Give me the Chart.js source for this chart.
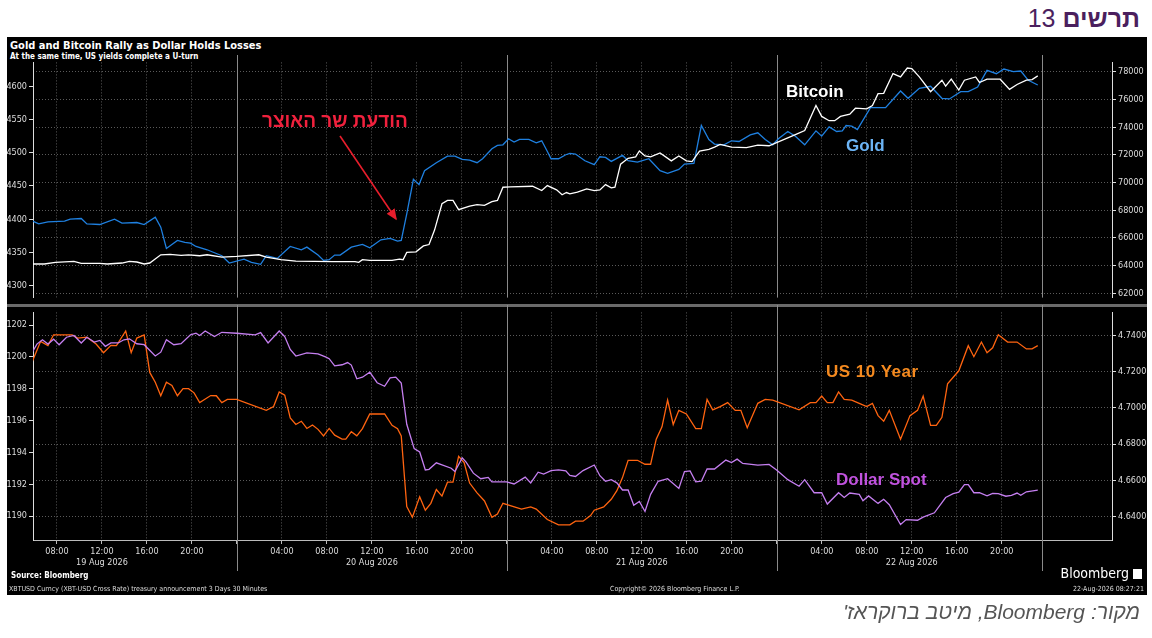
<!DOCTYPE html>
<html>
<head>
<meta charset="utf-8">
<script src="https://cdn.jsdelivr.net/npm/chart.js@4"></script>
<style>
  body { margin: 0; background: #fff; width: 1152px; height: 638px; position: relative; overflow: hidden; font-family: "Liberation Sans", Arial, sans-serif; }
  #panel { position: absolute; left: 7px; top: 37px; width: 1140px; height: 558px; background: #000; }
  .abs { position: absolute; white-space: nowrap; }
  .chartBox { position: absolute; left: 7px; width: 1140px; }
</style>
</head>
<body>
<div class="abs" style="right:12px;top:4px;font-size:25px;color:#4b1f5e;direction:rtl;"><b>תרשים</b> 13</div>
<div id="panel"></div>
<div class="abs" style="left:10px;top:39px;color:#fff;font:bold 11px 'Liberation Sans Narrow','DejaVu Sans Condensed',sans-serif;">Gold and Bitcoin Rally as Dollar Holds Losses</div>
<div class="abs" style="left:10px;top:52px;color:#fff;font:bold 8px 'Liberation Sans Narrow','DejaVu Sans Condensed',sans-serif;">At the same time, US yields complete a U-turn</div>

<div class="chartBox" style="top:55px;height:250px;"><canvas id="topChart"></canvas></div>
<div style="position:absolute;left:7px;top:304px;width:1140px;height:3px;background:#6a6a6a;"></div>
<div class="chartBox" style="top:305px;height:270px;"><canvas id="bottomChart"></canvas></div>

<div class="abs" style="left:786px;top:82px;color:#fff;font:bold 17px 'Liberation Sans',sans-serif;">Bitcoin</div>
<div class="abs" style="left:846px;top:136px;color:#6cb4f5;font:bold 17px 'Liberation Sans',sans-serif;">Gold</div>
<div class="abs" style="left:826px;top:362px;color:#f58a1f;font:bold 17px 'Liberation Sans',sans-serif;letter-spacing:0.5px;">US 10 Year</div>
<div class="abs" style="left:836px;top:470px;color:#c052de;font:bold 17px 'Liberation Sans',sans-serif;">Dollar Spot</div>
<div class="abs" style="left:262px;top:110px;color:#f0213d;font:bold 19px 'Liberation Sans',sans-serif;direction:rtl;">הודעת שר האוצר</div>
<svg class="abs" style="left:0;top:0;" width="1152" height="638">
  <defs><marker id="ah" markerWidth="8" markerHeight="8" refX="6" refY="3" orient="auto"><path d="M0,0 L7,3 L0,6 z" fill="#e81e2c"/></marker></defs>
  <line x1="340" y1="136" x2="396" y2="219" stroke="#e81e2c" stroke-width="1.6" marker-end="url(#ah)"/>
</svg>

<div class="abs" style="left:11px;top:571px;color:#fff;font:bold 8px 'Liberation Sans Narrow','DejaVu Sans Condensed',sans-serif;">Source: Bloomberg</div>
<div class="abs" style="left:9px;top:585px;color:#ddd;font:7px 'Liberation Sans Narrow','DejaVu Sans Condensed',sans-serif;">XBTUSD Curncy (XBT-USD Cross Rate) treasury announcement 3 Days 30 Minutes</div>
<div class="abs" style="left:610px;top:585px;color:#ddd;font:7px 'Liberation Sans Narrow','DejaVu Sans Condensed',sans-serif;">Copyright© 2026 Bloomberg Finance L.P.</div>
<div class="abs" style="right:8px;top:585px;color:#ddd;font:7px 'Liberation Sans Narrow','DejaVu Sans Condensed',sans-serif;">22-Aug-2026 08:27:21</div>
<div class="abs" style="right:10px;top:565px;color:#fff;font:14px 'Liberation Sans Narrow','DejaVu Sans Condensed',sans-serif;">Bloomberg <span style="display:inline-block;width:9px;height:10px;background:#fff;vertical-align:-1px;"></span></div>
<div class="abs" style="right:12px;top:600px;color:#555;font:italic 21px 'Liberation Sans',sans-serif;direction:rtl;">מקור: Bloomberg, מיטב ברוקראז'</div>

<script>
// time axis: hours since 19 Aug 2026 00:00
const dayLabels = ['19 Aug 2026', '20 Aug 2026', '21 Aug 2026', '22 Aug 2026'];

// Gold (left axis, top panel)
const goldT = [5.73,6.38,7.2,8.68,9.18,10.16,10.66,11.81,13.12,13.78,15.1,15.75,16.74,17.23,17.73,18.71,19.37,19.87,20.36,21.35,22.66,23.32,24.63,25.29,26.11,26.61,27.59,28.74,29.73,30.22,31.21,31.7,32.2,32.69,33.18,34.17,35.16,35.81,36.8,37.62,38.28,38.61,39.1,39.69,40.19,40.68,41.73,42.72,43.38,44.03,44.69,45.35,45.84,46.67,47.16,47.65,48.15,48.64,49.13,49.95,50.61,51.1,51.6,51.93,52.59,53.24,
  53.6,54.1,54.94,55.77,56.27,56.77,57.28,58.28,58.78,59.61,60.62,61.62,62.29,63.29,63.79,64.63,65.29,65.96,66.46,67.3,67.97,68.64,69.64,70.31,70.97,71.64,72.14,72.98,73.65,74.48,75.48,75.99,76.65,77.32,77.82,78.16,78.66,79.16,80.33,81.67,83.0,83.67,84.67,85.67,86.68,87.35,88.35,89.02,89.85,90.69,91.52,92.19,93.03,93.69,94.36,95.2];
const goldV = [4398,4393,4396,4397,4400,4401,4393,4392,4400,4394,4395,4392,4403,4388,4356,4368,4365,4364,4359,4354,4345,4334,4340,4335,4332,4345,4341,4359,4354,4358,4346,4338,4339,4346,4346,4358,4362,4357,4369,4371,4367,4368,4408,4460,4452,4473,4485,4495,4495,4490,4489,4485,4491,4506,4511,4512,4521,4516,4520,4520,4515,4518,4502,4491,4491,4497,
  4499,4498,4488,4482,4494,4493,4487,4496,4488,4486,4491,4473,4469,4475,4483,4484,4541,4520,4513,4512,4518,4517,4527,4530,4520,4512,4521,4532,4525,4512,4533,4525,4539,4532,4533,4541,4540,4535,4568,4568,4593,4582,4597,4600,4582,4581,4592,4592,4599,4624,4619,4626,4622,4623,4609,4602];

// Bitcoin (right axis, top panel)
const btcT = [5.73,6.88,7.86,9.51,10.16,11.81,12.47,13.78,14.44,15.1,15.75,16.25,17.23,18.06,19.04,19.7,20.69,21.35,22.66,23.98,25.95,26.61,27.92,29.24,32.53,34.5,34.83,35.16,35.81,37.79,38.45,38.77,39.1,39.92,40.58,41.08,41.57,42.23,42.72,43.21,43.71,44.69,45.35,46.01,46.67,47.16,47.65,48.31,50.28,51.1,51.6,52.42,52.91,53.3,
  53.6,54.27,55.1,55.77,56.27,56.77,57.28,57.61,58.11,58.78,59.45,59.78,60.28,60.78,61.62,62.62,63.29,63.96,64.46,65.13,65.96,66.46,66.96,67.97,69.3,70.31,71.31,73.65,74.48,75.48,75.99,76.65,77.15,77.66,78.49,78.99,79.99,80.5,81.0,81.5,82.33,83.0,83.6,84.0,84.67,85.67,86.68,87.01,87.51,88.18,88.68,89.68,90.02,90.69,91.86,92.69,93.36,94.19,94.69,95.2];
const btcV = [64119,64119,64238,64309,64167,64167,64119,64190,64309,64262,64119,64190,64785,64809,64738,64785,64714,64785,64619,64666,64785,64619,64428,64333,64286,64286,64238,64428,64380,64380,64476,64428,64952,65000,65428,65524,66571,68476,68714,68714,68047,68309,68405,68357,68619,68714,69667,69690,69738,69428,69786,69476,69119,69285,
  69190,69309,69547,69428,69476,69857,69619,69666,71333,71762,71857,72286,71928,71857,72143,71571,71928,71571,71524,72286,72405,72571,72762,72571,72524,72714,72667,73476,73762,75571,74786,74476,74476,74786,74952,75381,75333,75571,76429,76452,77881,77643,78286,78238,77643,76571,77405,76976,77476,76690,77405,77643,77238,77476,77476,76738,77095,77405,77452,77714];

// Dollar Spot (left axis, bottom panel)
const dxyT = [5.73,6.22,6.71,7.2,7.7,8.19,8.85,9.51,10.16,10.66,11.32,11.81,12.3,12.8,13.45,13.95,14.44,15.1,15.75,16.74,17.23,17.73,18.39,19.04,19.87,20.36,20.69,21.18,22.0,22.66,23.98,25.62,26.11,26.77,27.76,28.25,28.74,29.24,30.22,31.21,31.87,32.2,32.69,33.35,33.84,34.17,34.66,35.16,35.81,36.47,37.13,37.62,38.12,38.61,39.1,39.76,40.25,40.75,41.08,41.73,43.05,43.38,44.03,44.36,45.02,45.68,46.34,46.67,47.98,48.64,49.63,50.12,50.78,51.27,51.93,52.59,53.24,
  53.6,54.1,54.77,55.77,56.27,56.77,57.28,57.78,58.28,58.78,59.28,59.78,60.28,60.78,61.45,62.29,63.29,63.79,64.29,64.79,65.29,65.8,66.46,67.47,67.97,68.47,68.97,70.31,71.31,71.98,72.98,73.98,74.48,75.32,75.99,76.49,77.49,77.99,78.49,79.33,79.66,80.16,81.0,81.5,82.0,83.0,83.5,84.51,85.01,86.01,87.01,87.68,88.18,88.68,89.02,89.52,90.02,90.69,91.19,91.69,92.36,92.86,93.36,93.69,94.19,95.2];
const dxyV = [1200.20,1200.81,1201.08,1200.81,1201.12,1200.77,1201.24,1201.35,1200.88,1201.24,1200.94,1201.04,1200.67,1200.88,1200.88,1201.08,1201.14,1200.83,1200.77,1200.06,1200.30,1201.08,1200.77,1200.83,1201.39,1201.49,1201.35,1201.63,1201.28,1201.55,1201.49,1201.39,1201.53,1200.88,1201.63,1201.28,1200.47,1200.06,1200.26,1200.20,1200.00,1199.89,1199.44,1199.51,1199.65,1199.49,1198.63,1198.73,1199.04,1198.38,1198.16,1198.69,1198.73,1198.36,1195.77,1194.24,1194.03,1192.90,1192.94,1193.35,1193.01,1192.80,1193.66,1193.41,1192.70,1192.35,1192.43,1192.15,1192.15,1192.02,1192.45,1192.09,1192.76,1192.64,1192.86,1192.90,1192.84,
  1192.56,1192.49,1192.86,1193.21,1192.54,1192.19,1192.29,1192.09,1191.64,1191.64,1190.68,1190.92,1190.29,1191.37,1192.19,1192.35,1191.74,1192.80,1192.84,1192.15,1192.19,1192.96,1192.96,1193.52,1193.37,1193.58,1193.31,1193.21,1193.25,1192.90,1192.29,1191.88,1192.29,1191.47,1191.47,1190.76,1191.47,1191.17,1191.45,1191.37,1190.96,1191.27,1190.80,1191.06,1190.72,1189.47,1189.78,1189.74,1189.94,1190.21,1191.17,1191.41,1191.51,1191.98,1191.98,1191.47,1191.47,1191.27,1191.43,1191.41,1191.25,1191.31,1191.45,1191.31,1191.53,1191.64];

// US 10 Year yield (right axis, bottom panel)
const ustT = [5.73,6.55,7.2,7.7,9.34,9.84,10.66,11.48,12.14,12.8,13.29,14.11,14.6,15.1,15.75,16.25,16.74,17.23,17.73,18.22,18.71,19.21,19.7,20.19,20.69,21.67,22.17,22.66,23.15,23.98,26.61,27.26,27.76,28.25,28.74,29.24,29.73,30.22,30.72,31.21,31.7,32.2,32.69,33.35,33.68,34.17,34.66,35.16,35.81,37.13,37.79,38.28,38.61,39.1,39.6,40.25,40.75,41.24,41.73,42.23,42.72,43.21,43.71,44.2,44.69,45.35,46.01,46.67,47.16,47.65,49.3,50.12,50.61,51.6,52.59,
  53.6,54.1,54.77,55.44,55.77,56.61,57.28,57.78,58.28,58.78,59.61,60.28,60.78,61.28,61.79,62.29,62.79,63.29,63.96,64.79,65.29,65.8,66.3,66.96,67.63,68.3,68.8,69.37,70.31,70.97,71.64,73.98,74.98,75.48,75.99,76.49,76.99,77.49,77.99,78.66,79.33,79.99,80.5,81.0,81.5,82.0,83.0,83.84,84.51,85.01,85.67,86.18,86.68,87.18,88.18,89.02,89.52,90.19,90.69,91.19,91.69,92.52,93.36,94.19,94.69,95.2];
const ustV = [4.7245,4.7368,4.7344,4.7404,4.7404,4.7386,4.7391,4.7353,4.7305,4.7346,4.7344,4.7425,4.7305,4.7386,4.7404,4.7196,4.7142,4.7067,4.7142,4.7124,4.7067,4.7106,4.7106,4.7083,4.7029,4.7068,4.7067,4.7029,4.7047,4.7047,4.6986,4.7007,4.7088,4.7070,4.6944,4.6908,4.6926,4.6886,4.6905,4.6881,4.6845,4.6886,4.6849,4.6827,4.6827,4.6868,4.6845,4.6885,4.6966,4.6966,4.6903,4.6885,4.6845,4.6454,4.6395,4.6508,4.6434,4.6472,4.6548,4.6512,4.6589,4.6589,4.6732,4.6697,4.6584,4.6530,4.6485,4.6395,4.6413,4.6472,4.6440,4.6452,4.6440,4.6382,4.6353,
  4.6353,4.6373,4.6373,4.6404,4.6434,4.6452,4.6494,4.6542,4.6614,4.6710,4.6710,4.6688,4.6688,4.6827,4.6895,4.7043,4.6908,4.6986,4.6966,4.6885,4.6885,4.7047,4.6989,4.7007,4.7029,4.6986,4.6986,4.6890,4.7025,4.7047,4.7043,4.6989,4.7029,4.7029,4.7065,4.7029,4.7029,4.7088,4.7047,4.7043,4.7025,4.7007,4.7025,4.6957,4.6926,4.6986,4.6827,4.6957,4.6986,4.7065,4.6903,4.6903,4.6948,4.7133,4.7205,4.7344,4.7283,4.7364,4.7305,4.7332,4.7404,4.7364,4.7364,4.7326,4.7326,4.7344];

const xMin = 5.87, xMax = 101.8;
const tickFont = { family: "'Liberation Sans Narrow', 'DejaVu Sans Condensed', sans-serif", size: 9 };
const pts = (t, v) => t.map((x, i) => ({ x: x, y: v[i] }));

// solid day separators + "now" line, drawn through the scale
const dayLines = {
  id: 'dayLines',
  beforeDatasetsDraw(chart) {
    const { ctx, scales: { x }, chartArea } = chart;
    ctx.save();
    ctx.strokeStyle = '#8a8a8a';
    ctx.lineWidth = 1;
    [24, 48, 72, 95.6].forEach(h => {
      const px = Math.round(x.getPixelForValue(h)) + 0.5;
      ctx.beginPath();
      ctx.moveTo(px, 0);
      ctx.lineTo(px, chart.options.plugins.dayLines.full ? chart.height - 4 : chartArea.bottom);
      ctx.stroke();
    });
    ctx.restore();
  }
};

function xAxis(showLabels) {
  return {
    type: 'linear', min: xMin, max: xMax,
    afterBuildTicks: s => {
      const t = [];
      for (let v = 8; v <= 92; v += 4) t.push({ value: v });
      s.ticks = t;
    },
    grid: { color: ctx => (ctx.tick && ctx.tick.value % 24 === 0) ? 'rgba(0,0,0,0)' : '#5a5a5a', drawTicks: showLabels, tickLength: 4, tickColor: '#bbb' },
    border: { display: showLabels, color: '#bbb', dash: [1, 2] },
    ticks: {
      display: showLabels, color: '#ddd', font: tickFont, maxRotation: 0, autoSkip: false, padding: 2,
      callback: v => {
        if (v % 24 === 0) return '';
        const hh = v % 24;
        const lab = (hh < 10 ? '0' : '') + hh + ':00';
        return hh === 12 ? [lab, dayLabels[Math.floor(v / 24)]] : lab;
      }
    },
    afterFit: s => { s.height = showLabels ? 35 : 0; }
  };
}

function yAxis(pos, min, max, step, grid, fmt, width) {
  return {
    type: 'linear', position: pos, min: min, max: max,
    afterBuildTicks: s => {
      const t = [];
      for (let v = Math.ceil(min / step) * step; v <= max; v += step) t.push({ value: +v.toFixed(4) });
      s.ticks = t;
    },
    grid: { display: true, drawOnChartArea: grid, color: '#5a5a5a', tickLength: 4, tickColor: '#ddd' },
    border: { color: '#ddd', width: 1, dash: grid ? [1, 2] : [] },
    ticks: { color: '#ddd', font: tickFont, padding: 2, callback: fmt },
    afterFit: s => { s.width = width; }
  };
}

function line(data, color, axis) {
  return { data: data, borderColor: color, borderWidth: 1.3, pointRadius: 0, tension: 0, yAxisID: axis };
}

Chart.defaults.animation = false;

new Chart(document.getElementById('topChart'), {
  type: 'line',
  data: { datasets: [
    line(pts(btcT, btcV), '#ffffff', 'yR'),
    line(pts(goldT, goldV), '#1f80e0', 'yL')
  ] },
  options: {
    responsive: true, maintainAspectRatio: false,
    layout: { padding: { top: 7, bottom: 5 } },
    plugins: { legend: { display: false }, tooltip: { enabled: false }, dayLines: { full: false } },
    scales: {
      x: xAxis(false),
      yL: yAxis('left', 4282, 4636, 50, false, v => v, 26),
      yR: yAxis('right', 61690, 78690, 2000, true, v => v, 35)
    }
  },
  plugins: [dayLines]
});

new Chart(document.getElementById('bottomChart'), {
  type: 'line',
  data: { datasets: [
    line(pts(dxyT, dxyV), '#c57ff0', 'yL'),
    line(pts(ustT, ustV), '#ff6410', 'yR')
  ] },
  options: {
    responsive: true, maintainAspectRatio: false,
    layout: { padding: { top: 3 } },
    plugins: { legend: { display: false }, tooltip: { enabled: false }, dayLines: { full: true } },
    scales: {
      x: xAxis(true),
      yL: yAxis('left', 1188.5, 1202.8, 2, false, v => v, 26),
      yR: yAxis('right', 4.6269, 4.7528, 0.02, true, v => v.toFixed(4), 35)
    }
  },
  plugins: [dayLines]
});
</script>
</body>
</html>
